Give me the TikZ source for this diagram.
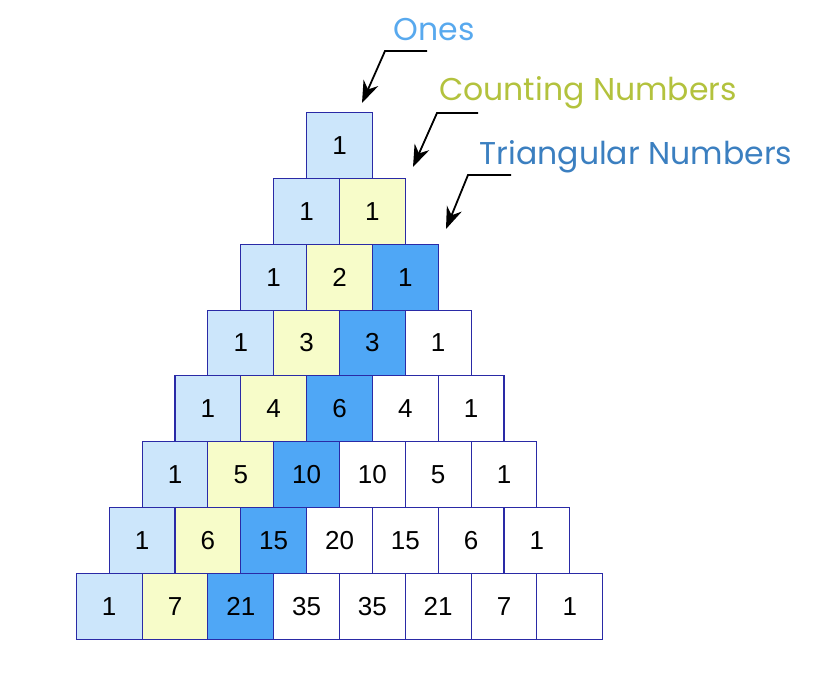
\documentclass[tikz,border=0pt]{standalone}
\usepackage{fontspec}
\setmainfont{Liberation Sans}
\newfontfamily\labelfont{Poppins}
\usetikzlibrary{arrows.meta}
\definecolor{boxline}{HTML}{2A2AA6}
\definecolor{onesfill}{HTML}{CCE6FB}
\definecolor{countfill}{HTML}{F7FCC9}
\definecolor{trifill}{HTML}{4FA7F6}
\definecolor{onestext}{HTML}{58A9EE}
\definecolor{counttext}{HTML}{B3C23D}
\definecolor{tritext}{HTML}{3B7FC0}

\begin{document}
\begin{tikzpicture}[x=1pt,y=-1pt,
  main/.style = {draw=boxline, line width=1.1pt, minimum size=65.8pt, inner sep=0pt, font=\fontsize{26}{26}\selectfont},
  ones/.style = {main, fill=onesfill},
  count/.style = {main, fill=countfill},
  tri/.style = {main, fill=trifill},
  lbl/.style = {font=\labelfont\fontsize{31.5}{31.5}\selectfont},
  pointer/.style = {line width=1.8pt, -{Stealth[length=22pt,width=16pt]}},
  node distance={65.8pt}]
        \useasboundingbox (0,0) rectangle (818,682);
        \node[ones] (a1) at (339.5,145.6) {1};
        \node[ones] (b1) [below of=a1, xshift=-32.9pt] {1};
        \node[count] (b2) [right of=b1] {1};
        \node[ones] (c1) [below of=b1, xshift=-32.9pt] {1};
        \node[count] (c2) [right of=c1] {2};
        \node[tri] (c3) [right of=c2] {1};
        \node[ones] (d1) [below of=c1, xshift=-32.9pt] {1};
        \node[count] (d2) [right of=d1] {3};
        \node[tri] (d3) [right of=d2] {3};
        \node[main] (d4) [right of=d3] {1};
        \node[ones] (e1) [below of=d1, xshift=-32.9pt] {1};
        \node[count] (e2) [right of=e1] {4};
        \node[tri] (e3) [right of=e2] {6};
        \node[main] (e4) [right of=e3] {4};
        \node[main] (e5) [right of=e4] {1};
        \node[ones] (f1) [below of=e1, xshift=-32.9pt] {1};
        \node[count] (f2) [right of=f1] {5};
        \node[tri] (f3) [right of=f2] {10};
        \node[main] (f4) [right of=f3] {10};
        \node[main] (f5) [right of=f4] {5};
        \node[main] (f6) [right of=f5] {1};
        \node[ones] (g1) [below of=f1, xshift=-32.9pt] {1};
        \node[count] (g2) [right of=g1] {6};
        \node[tri] (g3) [right of=g2] {15};
        \node[main] (g4) [right of=g3] {20};
        \node[main] (g5) [right of=g4] {15};
        \node[main] (g6) [right of=g5] {6};
        \node[main] (g7) [right of=g6] {1};
        \node[ones] (h1) [below of=g1, xshift=-32.9pt] {1};
        \node[count] (h2) [right of=h1] {7};
        \node[tri] (h3) [right of=h2] {21};
        \node[main] (h4) [right of=h3] {35};
        \node[main] (h5) [right of=h4] {35};
        \node[main] (h6) [right of=h5] {21};
        \node[main] (h7) [right of=h6] {7};
        \node[main] (h8) [right of=h7] {1};
        % labels
        \node[lbl, text=onestext] (ones) at (434,30) {Ones};
        \node[lbl, text=counttext] (count) at (588,93) {Counting Numbers};
        \node[lbl, text=tritext] (tri) at (636,157) {Triangular Numbers};
        \coordinate (onesTail) at (427,51);
        \coordinate (onesBend) at (385,51);
        \coordinate (onesTip) at (362,103);
        \coordinate (countTail) at (478,113);
        \coordinate (countBend) at (437,113);
        \coordinate (countTip) at (413,167);
        \coordinate (triTail) at (511,175);
        \coordinate (triBend) at (468,175);
        \coordinate (triTip) at (446,229);
        \draw[pointer] (onesTail) -- (onesBend) -- (onesTip);
        \draw[pointer] (countTail) -- (countBend) -- (countTip);
        \draw[pointer] (triTail) -- (triBend) -- (triTip);
\end{tikzpicture}
\end{document}
